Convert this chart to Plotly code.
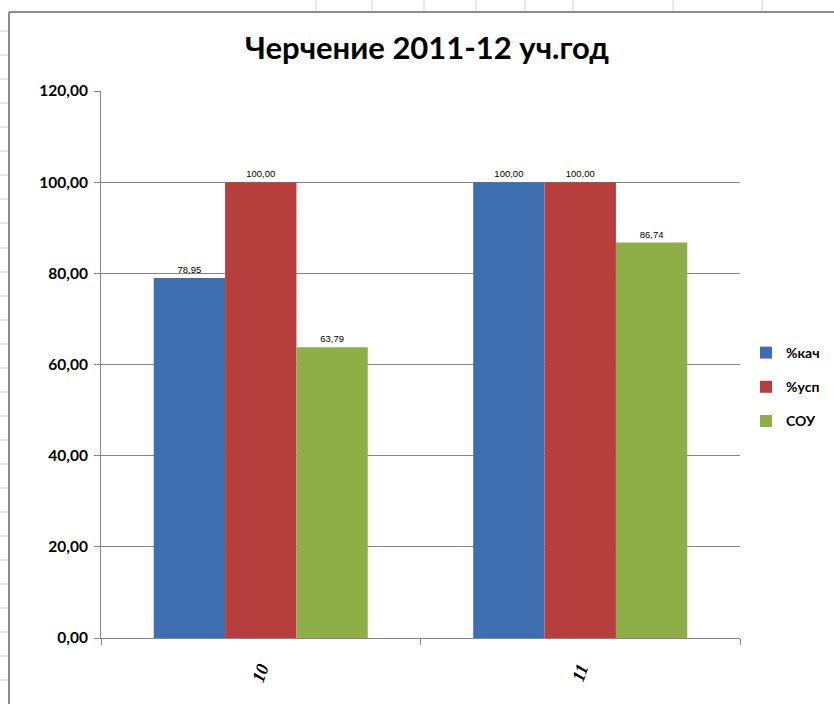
import plotly.graph_objects as go

categories = ["10", "11"]
series_names = ["%кач", "%усп", "СОУ"]
kach = [78.95, 100.00]
usp = [100.00, 100.00]
sou = [63.79, 86.74]
colors = ["#3C6EB0", "#B63F3D", "#8EAF47"]

W, H = 834, 704
L, R, T, B = 101, 740, 91, 638


def px(x):
    return (x - L) / (R - L)


def py(y):
    return (B - y) / (B - T)


fig = go.Figure()
for name, vals, col in zip(series_names, [kach, usp, sou], colors):
    fig.add_trace(go.Bar(
        x=categories, y=vals, name=name, legendgroup=name,
        marker=dict(color=col, line=dict(width=0)),
        text=[f"{v:.2f}".replace(".", ",") for v in vals],
        textposition="outside", cliponaxis=False,
        textfont=dict(size=9.5, color="#000000", family="Liberation Sans"),
    ))

# spreadsheet grid around the chart frame
shapes = []
grey = "#D0D0D0"
for x in [316, 372, 424, 476, 525, 573, 673, 762]:
    shapes.append(dict(type="line", xref="paper", yref="paper", x0=px(x), x1=px(x),
                       y0=py(0), y1=py(11), line=dict(color=grey, width=1), layer="below"))
for y in [31, 55, 79, 103, 127, 151, 175, 199, 223, 248, 272, 296, 320, 344, 368,
          392, 416, 440, 464, 488, 512, 536, 560, 584, 608, 632, 656, 680]:
    shapes.append(dict(type="line", xref="paper", yref="paper", x0=px(0), x1=px(8),
                       y0=py(y), y1=py(y), line=dict(color=grey, width=1), layer="below"))
shapes.append(dict(type="line", xref="paper", yref="paper", x0=px(9), x1=px(W),
                   y0=py(12), y1=py(12), line=dict(color="#8C8C8C", width=2)))
shapes.append(dict(type="line", xref="paper", yref="paper", x0=px(9), x1=px(9),
                   y0=py(12), y1=py(H), line=dict(color="#8C8C8C", width=2)))

fig.update_layout(
    width=W, height=H,
    barmode="group", bargap=0.33, bargroupgap=0,
    separators=", ",
    paper_bgcolor="#FFFFFF", plot_bgcolor="#FFFFFF",
    margin=dict(l=L, r=W - R, t=T, b=H - B, autoexpand=False),
    title=dict(text="<b>Черчение 2011-12 уч.год</b>", x=427 / W, xanchor="center",
               y=1 - 48 / H, yanchor="middle",
               font=dict(family="Lato", size=31, color="#000000")),
    font=dict(family="Lato", color="#000000"),
    legend=dict(x=px(746), y=py(337), xanchor="left", yanchor="top",
                font=dict(size=14, family="Lato", color="#000000", weight="bold"),
                tracegroupgap=13, traceorder="grouped", itemwidth=30,
                bgcolor="rgba(0,0,0,0)"),
    showlegend=True,
    shapes=shapes,
    xaxis=dict(showline=True, linecolor="#868686", linewidth=1,
               ticks="outside", tickson="boundaries", ticklen=6, tickcolor="#868686",
               tickangle=-70, showgrid=False, ticklabelstandoff=12,
               tickfont=dict(family="Liberation Serif", size=18, color="#000000",
                             weight="bold", style="italic"),
               ),
    yaxis=dict(range=[0, 120], dtick=20, tickformat=".2f",
               showline=True, linecolor="#868686", linewidth=1,
               ticks="outside", ticklen=6, tickcolor="#868686", ticklabelstandoff=3,
               showgrid=True, gridcolor="#868686", gridwidth=1,
               tickfont=dict(family="Lato", size=15.5, color="#000000", weight="bold"),
               zeroline=False),
)

fig.write_html("out.html", config={"displayModeBar": False},
               post_script="document.body.style.margin='0';")
